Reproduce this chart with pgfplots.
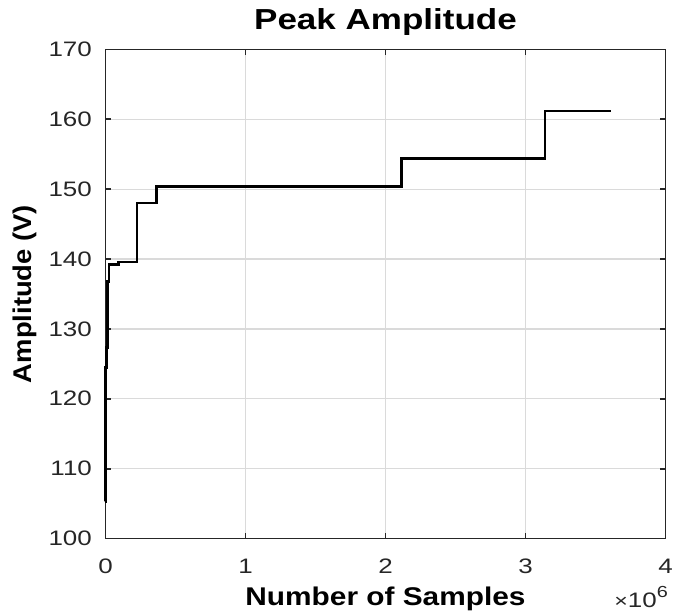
\documentclass[border=0pt]{standalone}
\usepackage{pgfplots}
\pgfplotsset{compat=1.18}
\usepackage{fontspec}
\setmainfont{Liberation Sans}
\newfontfamily\titlefont[FakeStretch=1.21]{Liberation Sans}
\newfontfamily\xlabfont[FakeStretch=1.165]{Liberation Sans}
\newfontfamily\ylabfont[FakeStretch=1.07]{Liberation Sans}
\newfontfamily\tickfont[FakeStretch=1.24]{Liberation Sans}
\definecolor{axc}{RGB}{38,38,38}
\definecolor{gridc}{RGB}{218,218,218}
\begin{document}
\begin{tikzpicture}
\begin{axis}[
  name=ax,
  scale only axis,
  width=420pt, height=366.75pt,
  xmin=0, xmax=4000000, ymin=100, ymax=170,
  xtick={0,1000000,2000000,3000000,4000000},
  xticklabels={0,1,2,3,4},
  scaled x ticks=false,
  ytick={100,110,...,170},
  /pgf/number format/assume math mode=true,
  tick label style={font=\tickfont\fontsize{15.7}{17}\selectfont, text=axc, inner sep=0pt},
  xticklabel style={anchor=north, yshift=-15.4pt},
  yticklabel style={anchor=east, xshift=-10pt},
  xmajorgrids, ymajorgrids,
  grid style={gridc, line width=1pt},
  axis line style={axc, line width=1.3pt},
  major tick style={axc, line width=1.3pt},
  tick align=inside,
  major tick length=4.5pt,
  title={Peak Amplitude},
  title style={font=\titlefont\bfseries\fontsize{21.7}{24}\selectfont, at={(0.5,1)}, anchor=base, inner sep=0pt, yshift=9pt},
  xlabel={Number of Samples},
  xlabel style={font=\xlabfont\bfseries\fontsize{19.2}{21}\selectfont, at={(0.5,0)}, anchor=base, inner sep=0pt, yshift=-50.6pt, text=black},
  ylabel={Amplitude (V)},
  ylabel style={font=\ylabfont\bfseries\fontsize{19.2}{21}\selectfont, at={([xshift=-55.4pt]axis description cs:0,0.5)}, rotate=0, anchor=base, inner sep=0pt, text=black},
  clip=false,
]
\addplot[const plot, black, line width=2pt] coordinates {
(0,105.3) (1000,124.5) (9000,127.3) (15000,136.8) (26000,139.2)
(93000,139.6) (226000,148.0) (364000,150.4) (2114000,154.4)
(3140000,161.2) (3607000,161.2)
};
\node[anchor=base east, font=\tickfont\fontsize{15.7}{17}\selectfont, text=axc, inner sep=0pt] at ([xshift=1.9pt, yshift=-51.4pt]rel axis cs:1,0) {{\fontsize{14}{16}\selectfont ×}10\raisebox{7pt}{\fontsize{12}{14}\selectfont 6}};
\end{axis}
\pgfresetboundingbox
\path[use as bounding box] ([xshift=-79.1pt, yshift=-57.4pt]ax.south west) rectangle ([xshift=7.1pt, yshift=37.1pt]ax.north east);
\end{tikzpicture}
\end{document}
